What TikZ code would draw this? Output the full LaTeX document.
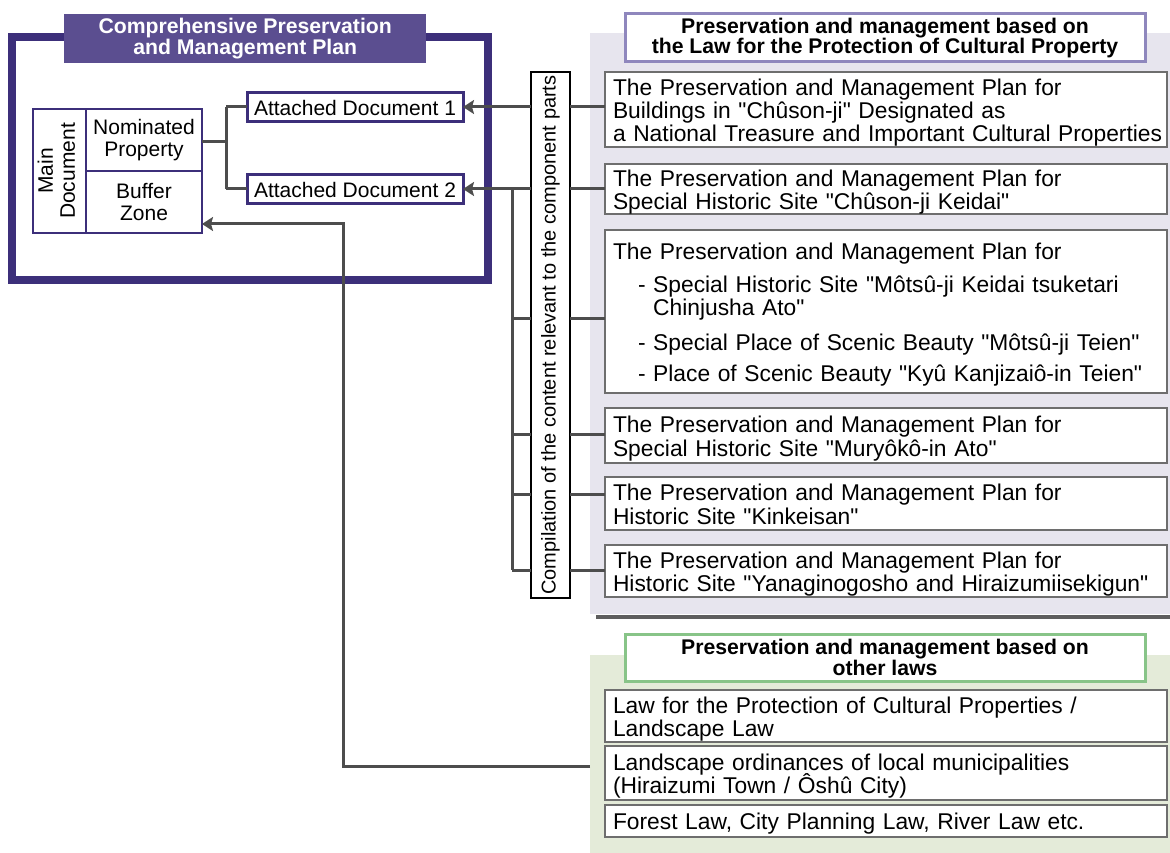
\documentclass[tikz,border=0pt]{standalone}
\usepackage{fontspec}
\setmainfont{Liberation Sans}[Ligatures=TeXOff]
\usepackage{graphicx}
\usetikzlibrary{arrows.meta}
\definecolor{frameP}{HTML}{3C2F7A}
\definecolor{titleP}{HTML}{5B4E90}
\definecolor{connG}{HTML}{4D4D4D}
\definecolor{panelG}{HTML}{E7E5EE}
\definecolor{hdrP}{HTML}{8F87BD}
\definecolor{boxG}{HTML}{6E6E6E}
\definecolor{darkL}{HTML}{5E5E5E}
\definecolor{panelGr}{HTML}{E4EBD9}
\definecolor{hdrG}{HTML}{88C488}
\newcommand\plainfont{\fontsize{22.8}{22.5}\selectfont}
\newcommand\leftfont{\fontsize{21}{22}\selectfont}
\newcommand\hdrfont{\fontsize{21.2}{18.8}\selectfont\bfseries}
\newcommand\rows[1]{\noindent\raisebox{-4pt}[\height][\depth]{\begin{tabular}{@{}l@{}}#1\end{tabular}}}
\tikzset{
  conn/.style={draw=connG, line width=3pt},
  arr/.style={conn, -{Stealth[length=11pt,width=14pt,inset=2pt]}},
  planbox/.style={draw=boxG, line width=1.2pt, fill=white, anchor=north west,
    minimum width=562pt, text width=546pt, inner xsep=8pt, inner ysep=0pt,
    align=left, font=\plainfont, outer sep=0pt},
  hdrbox/.style={line width=3pt, fill=white, anchor=north west, minimum width=520pt,
    inner sep=0pt, align=center, font=\hdrfont, outer sep=0pt},
  cell/.style={draw=frameP, line width=1.5pt, anchor=north west, inner sep=0pt,
    align=center, font=\leftfont, outer sep=0pt},
  adbox/.style={draw=frameP, line width=3pt, fill=white, anchor=north west,
    minimum width=216pt, minimum height=29pt, inner sep=0pt, font=\leftfont, outer sep=0pt},
  panel/.style={anchor=north west, inner sep=0pt, outer sep=0pt},
}
\begin{document}
\begin{tikzpicture}[x=1pt,y=-1pt]
\useasboundingbox (0,0) rectangle (1170,853);
\fill[white] (0,0) rectangle (1170,853);

% right panels
\node[panel, fill=panelG, minimum width=580pt, minimum height=581pt] (grayp) at (590,33) {};
\node[panel, fill=panelGr, minimum width=580pt, minimum height=198pt] (greenp) at (590,655) {};
\draw[draw=darkL, line width=4.5pt] (596,617) -- (1170,617);

% left frame
\node[draw=frameP, line width=8pt, anchor=north west, minimum width=476pt,
  minimum height=242.5pt, inner sep=0pt, outer sep=0pt] (frame) at (12,37) {};
\node[fill=titleP, text=white, anchor=north west, minimum width=362pt, minimum height=49pt,
  inner sep=0pt, align=center, font=\hdrfont] (title) at (64,14)
  {Comprehensive Preservation\\and Management Plan};

% main document
\node[cell, minimum width=53pt, minimum height=124pt] (md) at (33,109)
  {\rotatebox{90}{\begin{tabular}{@{}c@{}}Main\\Document\end{tabular}}};
\node[cell, minimum width=116pt, minimum height=62pt] (np) at (86,109) {Nominated\\Property};
\node[cell, minimum width=116pt, minimum height=62pt] (bz) at (86,171) {Buffer\\Zone};

\node[adbox] (ad1) at (247,93) {Attached Document 1};
\node[adbox] (ad2) at (247,175) {Attached Document 2};

% compilation box
\node[draw=black, line width=1.2pt, fill=white, anchor=north west, minimum width=39pt,
  minimum height=526pt, inner sep=0pt, outer sep=0pt, font=\fontsize{20}{22}\selectfont] (comp) at (531,72)
  {\rotatebox{90}{Compilation of the content relevant to the component parts}};

% headers
\node[hdrbox, draw=hdrP, minimum height=48pt] (h1) at (625,14)
  {Preservation and management based on\\the Law for the Protection of Cultural Property};
\node[hdrbox, draw=hdrG, minimum height=47pt] (h2) at (625,634)
  {Preservation and management based on\\other laws};

% plan boxes
\node[planbox, minimum height=75pt] (p1) at (605,72)
  {\rows{The Preservation and Management Plan for\\Buildings in "Chûson-ji" Designated as\\a National Treasure and Important Cultural Properties}};
\node[planbox, minimum height=50pt] (p2) at (605,164)
  {\rows{The Preservation and Management Plan for\\Special Historic Site "Chûson-ji Keidai"}};
\node[planbox, minimum height=163pt] (p3) at (605,230)
  {\rows{The Preservation and Management Plan for\\[10pt]
  \hspace{25pt}- Special Historic Site "Môtsû-ji Keidai tsuketari\\
  \hspace{25pt}\phantom{- }Chinjusha Ato"\\[11pt]
  \hspace{25pt}- Special Place of Scenic Beauty "Môtsû-ji Teien"\\[8pt]
  \hspace{25pt}- Place of Scenic Beauty "Kyû Kanjizaiô-in Teien"}};
\node[planbox, minimum height=55pt] (p4) at (605,408)
  {\rows{The Preservation and Management Plan for\\Special Historic Site "Muryôkô-in Ato"}};
\node[planbox, minimum height=53pt] (p5) at (605,477)
  {\rows{The Preservation and Management Plan for\\Historic Site "Kinkeisan"}};
\node[planbox, minimum height=52pt] (p6) at (605,545)
  {\rows{The Preservation and Management Plan for\\Historic Site "Yanaginogosho and Hiraizumiisekigun"}};

% law boxes
\node[planbox, minimum height=52pt] (l1) at (605,690)
  {\rows{Law for the Protection of Cultural Properties /\\Landscape Law}};
\node[planbox, minimum height=54pt] (l2) at (605,746)
  {\rows{Landscape ordinances of local municipalities\\\smash{(Hiraizumi Town / Ôshû City)}}};
\node[planbox, minimum height=32pt] (l3) at (605,805)
  {\rows{Forest Law, City Planning Law, River Law etc.}};

% connectors: main doc to attached docs
\coordinate (jn) at (226,142);
\draw[conn] (np.east |- jn) -- (jn);
\draw[conn] (226,107) -- (226,189);
\draw[conn] (226,107) -- (ad1.west |- 0,107);
\draw[conn] (226,189) -- (ad2.west |- 0,189);

% compilation to attached docs
\draw[arr] (comp.west |- 0,107) -- (ad1.east |- 0,107);
\draw[arr] (comp.west |- 0,189) -- (ad2.east |- 0,189);
\draw[conn] (512,189) -- (512,570);
\foreach \yy in {318,434,494,570} {
  \draw[conn] (512,\yy) -- (comp.west |- 0,\yy);
}
% compilation to plan boxes
\draw[conn] (comp.east |- 0,107) -- (p1.west |- 0,107);
\draw[conn] (comp.east |- 0,189) -- (p2.west |- 0,189);
\draw[conn] (comp.east |- 0,318) -- (p3.west |- 0,318);
\draw[conn] (comp.east |- 0,434) -- (p4.west |- 0,434);
\draw[conn] (comp.east |- 0,494) -- (p5.west |- 0,494);
\draw[conn] (comp.east |- 0,570) -- (p6.west |- 0,570);

% landscape ordinances to buffer zone
\coordinate (lawend) at (greenp.west |- 0,766);
\draw[arr] (lawend) -- (343,766) -- (343,224) -- (bz.east |- 0,224);
\end{tikzpicture}
\end{document}
